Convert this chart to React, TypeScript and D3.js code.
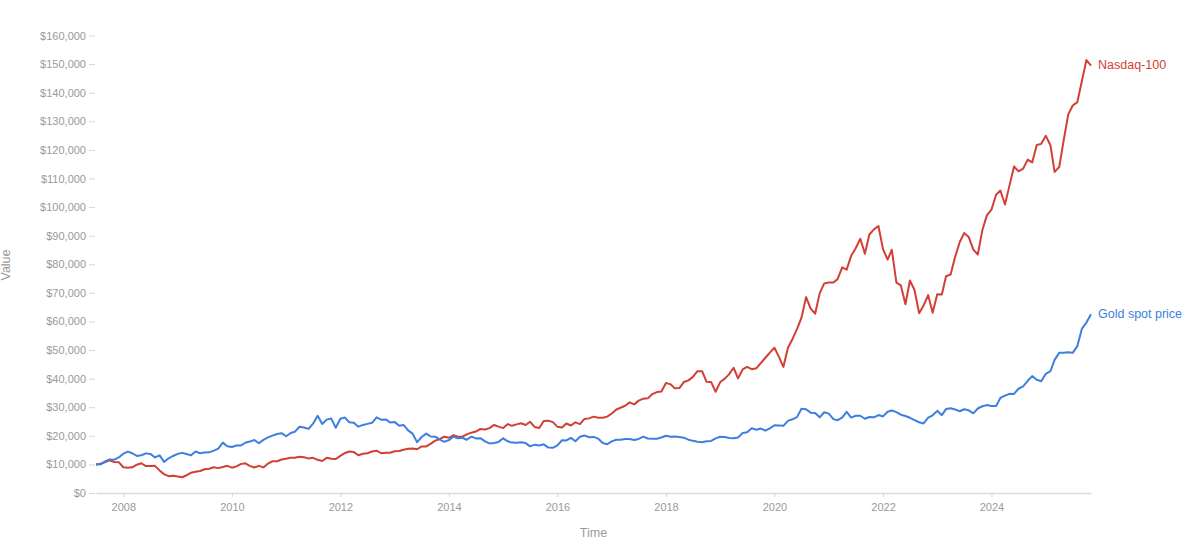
import * as d3 from "d3";
import { useEffect, useRef } from "react";

// monthly points, Jul 2007 .. Nov 2025 (growth of $10,000)
const startMonth = new Date(2007, 6, 1);
const endMonth = new Date(2025, 10, 1);

const nasdaq = [
  10000, 10230, 10820, 11450, 10830, 10790,
  9000, 8800, 9000, 9900, 10400, 9400, 9400, 9500, 7900, 6600, 5900, 6050,
  5800, 5500, 6200, 7100, 7400, 7700, 8300, 8500, 9000, 8700, 9100, 9500,
  8850, 9300, 10100, 10400, 9500, 8900, 9500, 8950, 10300, 11100, 11100, 11700,
  12000, 12300, 12300, 12700, 12500, 12100, 12300, 11600, 11200, 12300, 12000, 11900,
  13000, 14000, 14500, 14300, 13200, 13700, 13900, 14500, 14800, 13900, 14100, 14100,
  14600, 14700, 15100, 15500, 15600, 15300, 16300, 16300, 17300, 18300, 18900, 19700,
  19300, 20200, 19700, 19700, 20500, 21100, 21500, 22400, 22200, 22700, 23800, 23200,
  22700, 24100, 23500, 24000, 24400, 23800, 24900, 23100, 22700, 25200, 25300, 24800,
  23200, 22900, 24300, 23600, 24700, 24100, 25900, 26100, 26700, 26300, 26300, 26700,
  27800, 29200, 29800, 30500, 31700, 31000, 32300, 33000, 33100, 34600, 35300, 35500,
  38500, 38000, 36600, 36700, 38800, 39400, 40600, 42600, 42600, 38900, 38800, 35400,
  38800, 40000, 41500, 43800, 40100, 43200, 44100, 43300, 43600, 45400, 47300, 49100,
  50800, 47500, 44100, 50800, 53800, 57300, 61300, 68500, 64500, 62700, 69900, 73300,
  73600, 73600, 74800, 78900, 78100, 83000, 85600, 88900, 83700, 90400, 92200, 93400,
  85300, 81600, 85100, 73600, 72600, 66000, 74300, 71000, 62900, 65600, 69200, 63000,
  69500, 69400, 75800, 76400, 82500, 87700, 90900, 89500, 85100, 83400, 92000, 97100,
  99100, 104300, 105800, 100900, 107500, 114200, 112500, 113400, 116600, 115600, 121700, 122100,
  124900, 121600, 112300, 114000, 123300, 132400, 135500, 136700, 144200, 151400, 149500,
];

const gold = [
  10000, 10030, 11070, 11760, 11670, 12430,
  13750, 14470, 13900, 12980, 13190, 13860, 13680, 12430, 13170, 10880, 12130, 12950,
  13690, 14040, 13650, 13160, 14530, 13920, 14140, 14230, 14840, 15500, 17610, 16330,
  16110, 16630, 16580, 17580, 17980, 18540, 17420, 18570, 19470, 20060, 20650, 20930,
  19850, 20990, 21440, 23180, 22890, 22420, 24260, 27010, 24140, 25660, 26020, 22810,
  25990, 26370, 24760, 24600, 23210, 23810, 24170, 24560, 26460, 25630, 25720, 24690,
  24790, 23510, 23810, 21890, 20770, 17760, 19580, 20770, 19760, 19710, 18670, 17910,
  18480, 19760, 19130, 19310, 18630, 19700, 19100, 19180, 18040, 17340, 17520, 17870,
  19130, 18070, 17630, 17580, 17730, 17460, 16320, 16910, 16610, 17020, 15870, 15790,
  16660, 18450, 18370, 19270, 18100, 19700, 20130, 19500, 19610, 19030, 17480, 17080,
  18040, 18610, 18610, 18890, 18890, 18510, 18910, 19700, 19070, 18940, 19000, 19410,
  20040, 19640, 19740, 19610, 19360, 18640, 18240, 17910, 17760, 18100, 18210, 19100,
  19680, 19560, 19250, 19130, 19440, 20990, 21260, 22650, 22130, 22540, 21810, 22600,
  23680, 23620, 23500, 25240, 25780, 26540, 29430, 29310, 28100, 28000, 26460, 28240,
  27760, 25840, 25450, 26360, 28400, 26370, 27030, 27030, 25970, 26570, 26450, 27250,
  26780, 28440, 28860, 28270, 27370, 26920, 26310, 25490, 24750, 24330, 26340, 27180,
  28730, 27220, 29340, 29650, 29230, 28590, 29280, 28910, 27860, 29550, 30340, 30740,
  30400, 30460, 33230, 34060, 34670, 34660, 36460, 37290, 39250, 40890, 39590, 39100,
  41690, 42580, 46550, 49010, 49010, 49210, 49020, 51380, 57480, 59600, 62500,
];

const seriesNames = ["Nasdaq-100", "Gold spot price"];
const seriesColors = ["#d23f35", "#3d7fe0"];
const yTicks = d3.range(0, 160001, 10000);

const font = "'Liberation Sans', Arial, sans-serif";

const App = () => {
  const svgRef = useRef<SVGSVGElement>(null);

  useEffect(() => {
    const svg = d3.select(svgRef.current);
    svg.selectAll("*").remove();

    const width = 1200;
    const height = 550;
    const margin = { top: 35.5, right: 109, bottom: 57, left: 96 };

    const months = d3.timeMonth.range(startMonth, d3.timeMonth.offset(endMonth, 1));

    const x = d3.scaleTime()
      .domain([startMonth, endMonth])
      .range([margin.left, width - margin.right]);

    const y = d3.scaleLinear()
      .domain([0, 160000])
      .range([height - margin.bottom, margin.top]);

    // x axis
    const xAxis = svg.append("g")
      .attr("transform", `translate(0, ${height - margin.bottom})`)
      .call(
        d3.axisBottom(x)
          .ticks(d3.timeYear.every(2))
          .tickFormat(d3.timeFormat("%Y") as any)
          .tickSizeInner(4)
          .tickSizeOuter(0)
          .tickPadding(6)
      );
    xAxis.select(".domain").attr("stroke", "#dcdcdc").attr("stroke-width", 1.5);
    xAxis.selectAll(".tick line").attr("stroke", "#d6d6d6");
    xAxis.selectAll(".tick text")
      .attr("fill", "#9a9a9a")
      .attr("font-size", 11)
      .attr("font-family", font);

    // y axis, no domain line
    const yAxis = svg.append("g")
      .attr("transform", `translate(${margin.left - 1}, 0)`)
      .call(
        d3.axisLeft(y)
          .tickValues(yTicks)
          .tickFormat((d) => "$" + d3.format(",")(d as number))
          .tickSize(6)
          .tickPadding(3)
      );
    yAxis.select(".domain").remove();
    yAxis.selectAll(".tick line").attr("stroke", "#d6d6d6");
    yAxis.selectAll(".tick text")
      .attr("fill", "#9a9a9a")
      .attr("font-size", 11)
      .attr("font-family", font);

    // axis titles
    svg.append("text")
      .attr("x", (margin.left + width - margin.right) / 2)
      .attr("y", 534)
      .attr("text-anchor", "middle")
      .attr("dominant-baseline", "middle")
      .attr("fill", "#9a9a9a")
      .attr("font-size", 12.5)
      .attr("font-family", font)
      .text("Time");

    svg.append("text")
      .attr("transform", `translate(7, 265) rotate(-90)`)
      .attr("text-anchor", "middle")
      .attr("dominant-baseline", "middle")
      .attr("fill", "#9a9a9a")
      .attr("font-size", 12.5)
      .attr("font-family", font)
      .text("Value");

    // lines
    const line = d3.line<number>()
      .x((_, i) => x(months[i]))
      .y((d) => y(d));

    [nasdaq, gold].forEach((values, k) => {
      svg.append("path")
        .datum(values)
        .attr("fill", "none")
        .attr("stroke", seriesColors[k])
        .attr("stroke-width", 2)
        .attr("stroke-linejoin", "round")
        .attr("d", line);

      const last = values.length - 1;
      svg.append("text")
        .attr("x", x(months[last]) + 7)
        .attr("y", y(values[last]))
        .attr("dominant-baseline", "middle")
        .attr("fill", seriesColors[k])
        .attr("font-size", 12.5)
        .attr("font-family", font)
        .text(seriesNames[k]);
    });
  }, []);

  return (
    <svg
      ref={svgRef}
      width={1200}
      height={550}
      style={{ position: "absolute", left: 0, top: 0, background: "#fff" }}
    />
  );
};

export default App;
